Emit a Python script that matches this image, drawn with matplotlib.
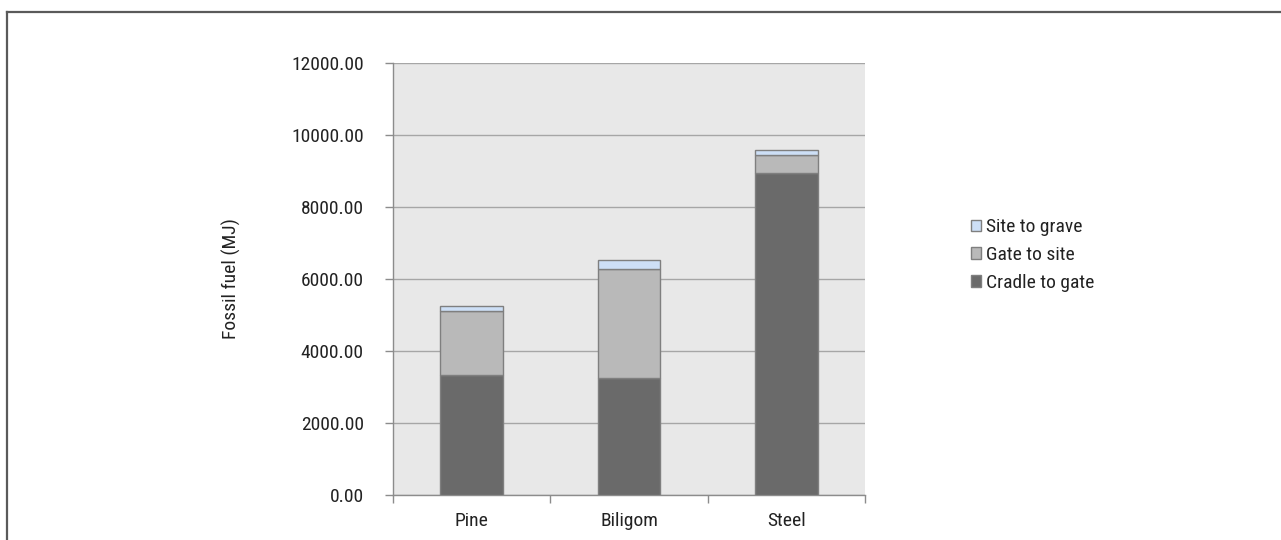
import matplotlib
matplotlib.use("Agg")
import matplotlib.pyplot as plt
from matplotlib.lines import Line2D
from matplotlib.ticker import FormatStrFormatter
from matplotlib import font_manager
import numpy as np

available = {f.name for f in font_manager.fontManager.ttflist}
narrow = [n for n in ['Roboto Condensed', 'Liberation Sans Narrow', 'Arial Narrow'] if n in available]
plt.rcParams['font.family'] = narrow + ['Roboto', 'DejaVu Sans']
fs = 14 if narrow else 11

materials = ["Pine", "Biligom", "Steel"]
cradle_to_gate = [3330, 3255, 8935]
gate_to_site = [1780, 3020, 490]
site_to_grave = [150, 250, 140]

fig = plt.figure(figsize=(12.81, 5.4), dpi=100)
ax = fig.add_axes([393 / 1281, 1 - 495 / 540, 472 / 1281, 432.3 / 540])

x = np.arange(len(materials))
w = 0.4
edge = "#7f7f7f"
c1 = np.array(cradle_to_gate)
c2 = np.array(gate_to_site)
c3 = np.array(site_to_grave)

ax.bar(x, c1, w, color="#6a6a6a", edgecolor=edge, linewidth=1, label="Cradle to gate", zorder=3)
ax.bar(x, c2, w, bottom=c1, color="#b9b9b9", edgecolor=edge, linewidth=1, label="Gate to site", zorder=3)
ax.bar(x, c3, w, bottom=c1 + c2, color="#cddff6", edgecolor=edge, linewidth=1, label="Site to grave", zorder=3)

ax.set_xlim(-0.5, 2.5)
ax.set_ylim(0, 12000)
ax.set_yticks(np.arange(0, 12001, 2000))
ax.yaxis.set_major_formatter(FormatStrFormatter('%.2f'))
ax.set_xticks(x)
ax.set_xticklabels(materials)
ax.set_xticks([-0.5, 0.5, 1.5, 2.5], minor=True)
ax.tick_params(axis='x', which='major', length=0, pad=12, labelsize=fs, labelcolor='#222222')
ax.tick_params(axis='x', which='minor', length=6, color='#8c8c8c', width=1)
ax.tick_params(axis='y', length=6, color='#8c8c8c', width=1, pad=15, labelsize=fs, labelcolor='#222222')

ax.set_facecolor("#e8e8e8")
ax.grid(axis='y', color="#a6a6a6", linewidth=1, zorder=1)
ax.set_axisbelow(True)
for s in ["top", "right"]:
    ax.spines[s].set_visible(False)
for s in ["left", "bottom"]:
    ax.spines[s].set_color("#8c8c8c")
    ax.spines[s].set_linewidth(1)

ax.set_ylabel("Fossil fuel (MJ)", fontsize=fs, color="#222222", labelpad=36)

handles, labels = ax.get_legend_handles_labels()
leg = fig.legend(handles[::-1], labels[::-1], loc='center left',
                 bbox_to_anchor=(953 / 1281, 1 - 255 / 540), frameon=False,
                 fontsize=fs, handlelength=0.55, handleheight=0.55,
                 handletextpad=0.25, labelspacing=0.5)
for t in leg.get_texts():
    t.set_color("#222222")

# outer frame (top and left edges)
fig.add_artist(Line2D([7 / 1281, 7 / 1281], [0, 1 - 12 / 540], transform=fig.transFigure,
                      color="#5a5a5a", linewidth=1.6))
fig.add_artist(Line2D([7 / 1281, 1], [1 - 12 / 540, 1 - 12 / 540], transform=fig.transFigure,
                      color="#5a5a5a", linewidth=1.6))

fig.savefig("out.png", dpi=100)
